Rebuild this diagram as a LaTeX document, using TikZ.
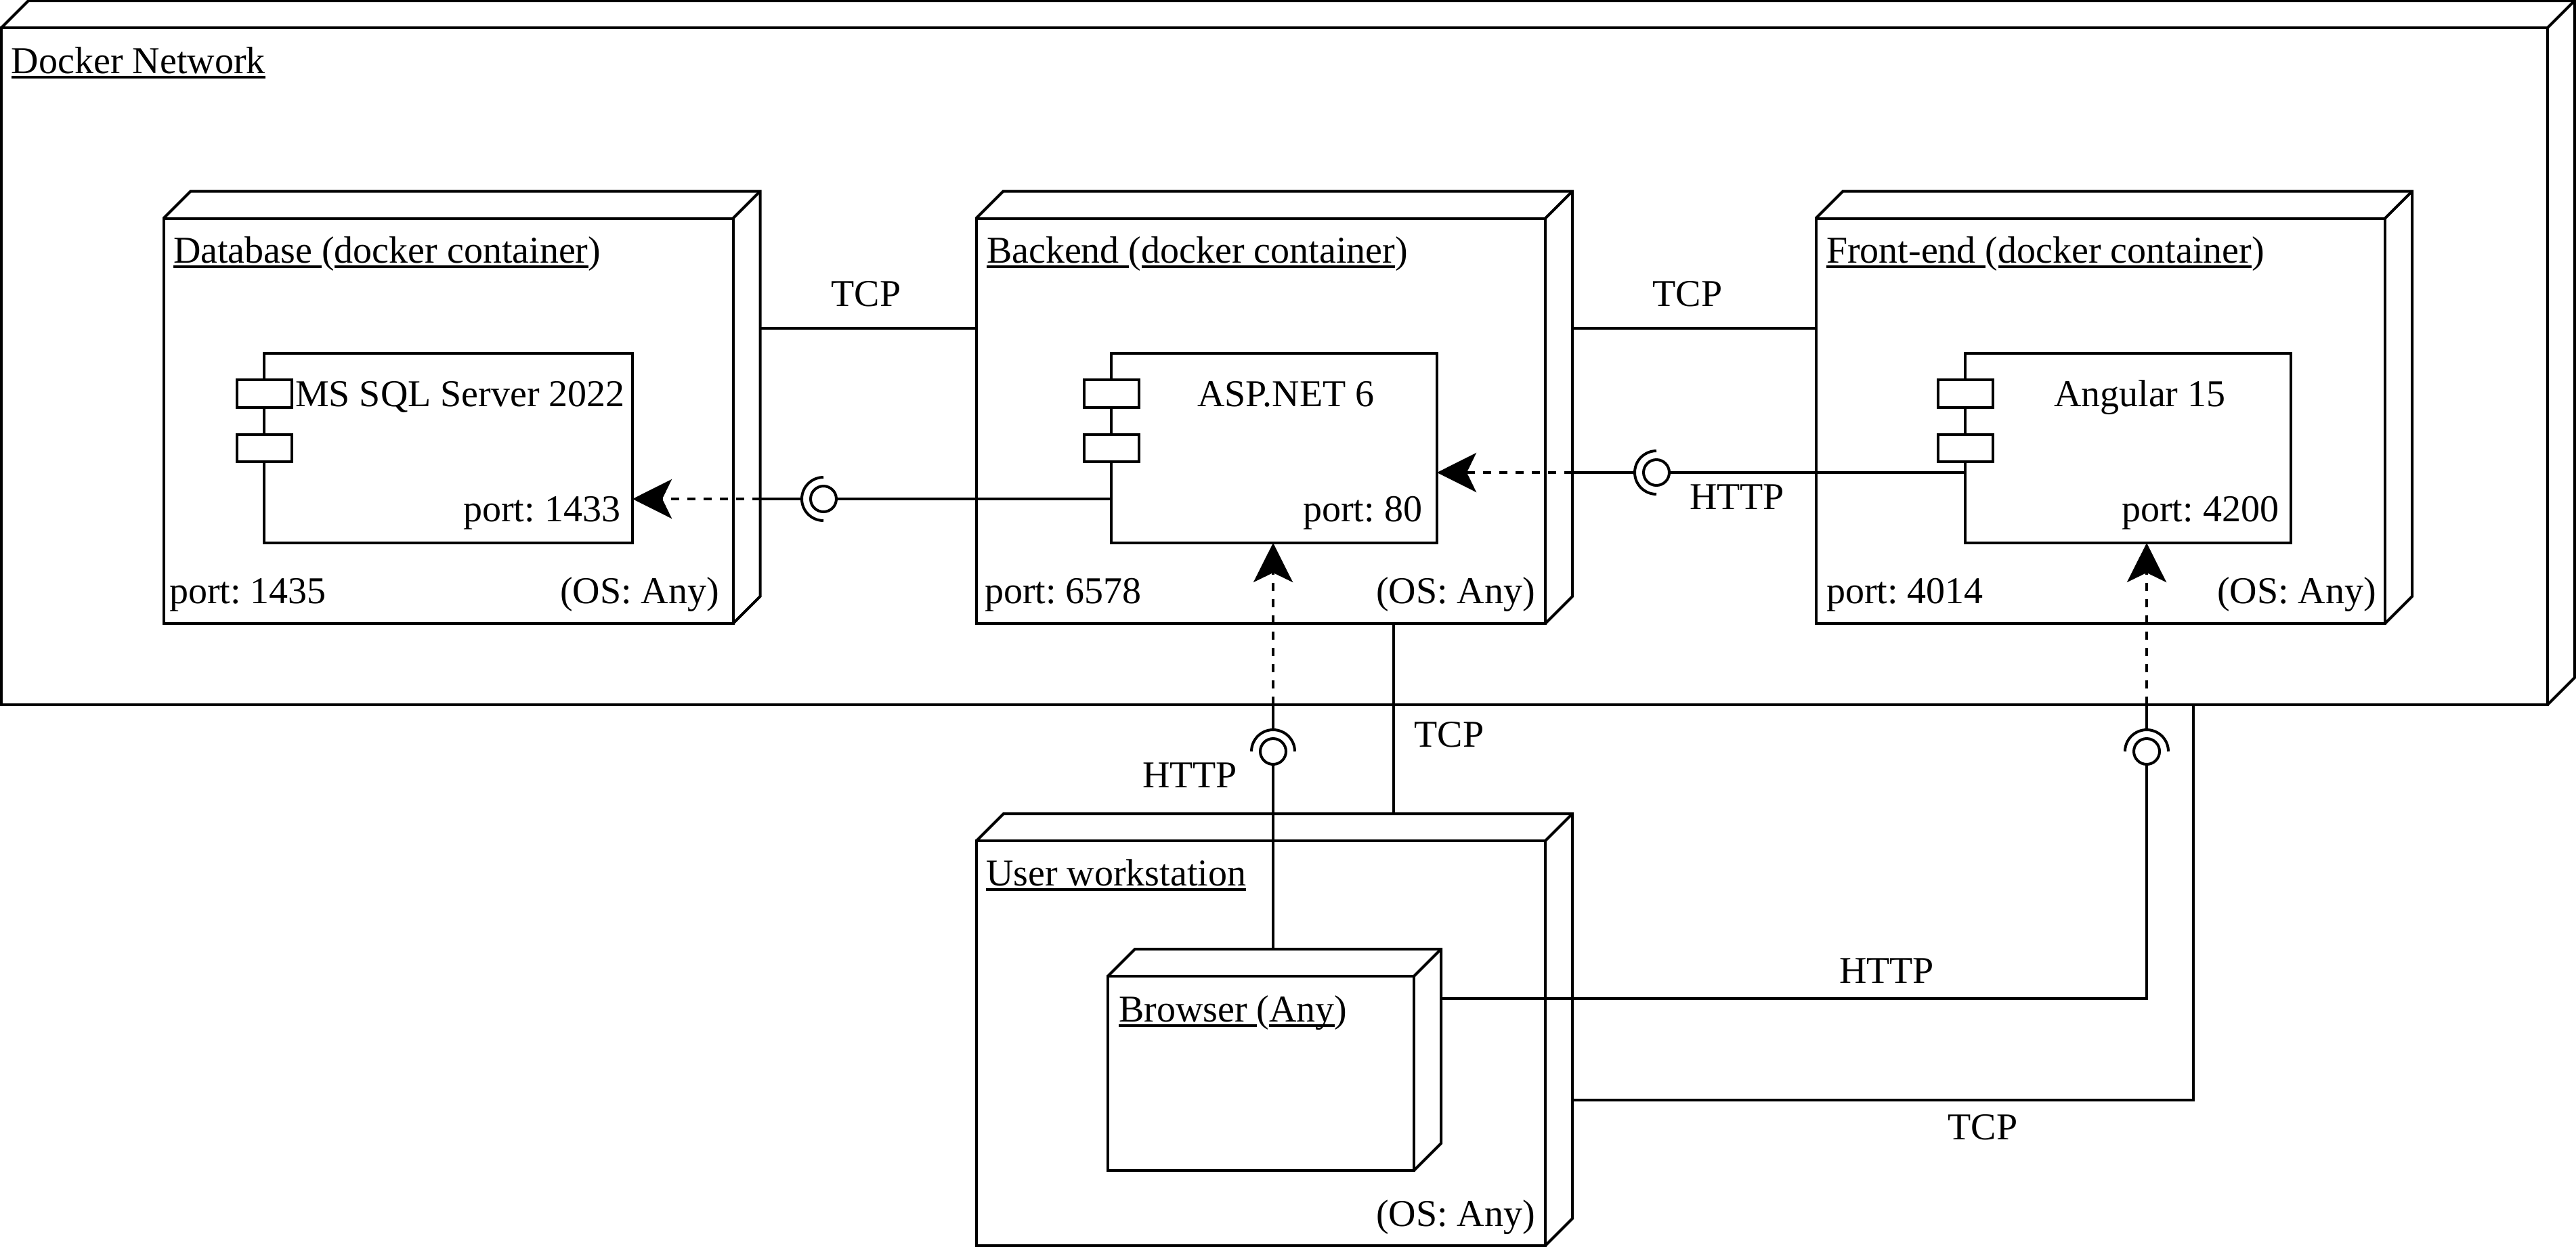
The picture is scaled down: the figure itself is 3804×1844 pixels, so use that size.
\documentclass[tikz,border=0pt]{standalone}
\usepackage{fontspec}
\setmainfont{Liberation Serif}
\usetikzlibrary{fit,arrows.meta}
\frenchspacing
\newcommand\ulx[1]{\setbox0=\hbox{#1}\rlap{\rule[-2pt]{\wd0}{1pt}}\box0}
\newcommand\cubenode[5]{%
  \fill[white] (#2,#3) -- (#2+40,#3-40) -- (#4+40,#3-40) -- (#4+40,#5-40) -- (#4,#5) -- cycle;
  \node[box, fit={(#2,#3) (#4,#5)}] (#1) {};
  \draw[line join=miter] (#1.north west) -- ++(40,-40) coordinate (#1T)
     -- ([shift={(40,-40)}]#1.north east) coordinate (#1R)
     -- ([shift={(40,-40)}]#1.south east) coordinate (#1B) -- (#1.south east);
  \draw (#1.north east) -- (#1R);
}
\newcommand\compnode[6]{%
  \node[box, fit={(#2,#3) (#4,#5)}] (#1) {};
  \node[box, fit={(#2-40,#3+39) (#2+41,#3+80)}] (#1a) {};
  \node[box, fit={(#2-40,#3+120) (#2+41,#3+160)}] (#1b) {};
  \node[lbl, anchor=base] (#1t) at ({(#2+41+#4)/2-3}, #3+78) {#6};
}
\begin{document}
\begin{tikzpicture}[x=0.25pt, y=-0.25pt, line width=1pt,
  box/.style={draw, fill=white, inner sep=0pt, outer sep=0pt},
  lbl/.style={inner sep=0pt, outer sep=0pt, font=\fontsize{14}{17}\selectfont\frenchspacing},
  dep/.style={dash pattern=on 3pt off 3pt, -{Stealth[length=14.5pt, width=14.5pt, inset=3.5pt]}},
  ball/.style={circle, draw, fill=white, minimum size=9.5pt, inner sep=0pt, outer sep=0pt}]
\useasboundingbox (0,0) rectangle (3804,1844);
\fill[white] (0,0) rectangle (3804,1844);

% Docker network
\cubenode{dn}{2}{41}{3762}{1041}
\node[lbl, anchor=base west] (dnl) at (17,108) {\ulx{Docker Network}};

% Database
\cubenode{db}{241.5}{322.5}{1082.5}{921}
\node[lbl, anchor=base west] (dbl) at (256,388) {\ulx{Database }(\ulx{docker container})};
\node[lbl, anchor=base west] (dbp) at (250,891) {port: 1435};
\node[lbl, anchor=base east] (dbo) at (1062,891) {(OS: Any)};
\compnode{sql}{390}{522}{934}{802}{MS SQL Server 2022}
\node[lbl, anchor=base east] (sqlp) at (916,770) {port: 1433};

% Backend
\cubenode{be}{1441.5}{322.5}{2282}{921}
\node[lbl, anchor=base west] (bel) at (1457,388) {\ulx{Backend }(\ulx{docker container})};
\node[lbl, anchor=base west] (bep) at (1454,891) {port: 6578};
\node[lbl, anchor=base east] (beo) at (2267,891) {(OS: Any)};
\compnode{asp}{1641}{522}{2122}{802}{ASP.NET 6}
\node[lbl, anchor=base east] (aspp) at (2100,770) {port: 80};

% Front-end
\cubenode{fe}{2681.5}{322.5}{3522}{921}
\node[lbl, anchor=base west] (fel) at (2697,388) {\ulx{Front-end }(\ulx{docker container})};
\node[lbl, anchor=base west] (fep) at (2697,891) {port: 4014};
\node[lbl, anchor=base east] (feo) at (3509,891) {(OS: Any)};
\compnode{ang}{2901.5}{522}{3383}{802}{Angular 15}
\node[lbl, anchor=base east] (angp) at (3365,770) {port: 4200};

% User workstation
\cubenode{ws}{1442}{1242}{2282}{1840}
\node[lbl, anchor=base west] (wsl) at (1456,1308) {\ulx{User workstation}};
\node[lbl, anchor=base east] (wso) at (2267,1811) {(OS: Any)};
\cubenode{br}{1636}{1442}{2088}{1729}
\node[lbl, anchor=base west] (brl) at (1652,1509) {\ulx{Browser }(\ulx{Any})};

% TCP links between containers
\draw (dbR |- 0,485) -- (be.west |- 0,485);
\node[lbl, anchor=base] (l1) at (1279,452) {TCP};
\draw (beR |- 0,485) -- (fe.west |- 0,485);
\node[lbl, anchor=base] (l2) at (2492,452) {TCP};

% ASP.NET -> MS SQL
\node[ball] (b1) at (1216,737) {};
\draw (asp.west |- b1) -- (b1.east);
\draw ([yshift=8pt]b1.center) arc[start angle=90, end angle=270, radius=8pt];
\coordinate (a1) at ([xshift=-8pt]b1.center);
\coordinate (e1) at (dbR |- b1);
\draw (a1) -- (e1);
\draw[dep] (e1) -- (sql.east |- b1);

% Angular -> ASP.NET
\node[ball] (b2) at (2446,698) {};
\draw (ang.west |- b2) -- (b2.east);
\draw ([yshift=8pt]b2.center) arc[start angle=90, end angle=270, radius=8pt];
\coordinate (a2) at ([xshift=-8pt]b2.center);
\coordinate (e2) at (beR |- b2);
\draw (a2) -- (e2);
\draw[dep] (e2) -- (asp.east |- b2);
\node[lbl, anchor=base] (l3) at (2565,752) {HTTP};

% Browser -> ASP.NET
\node[ball] (b3) at (1880,1110) {};
\draw (b3 |- brT) -- (b3.south);
\draw ([xshift=8pt]b3.center) arc[start angle=0, end angle=180, radius=8pt];
\coordinate (a3) at ([yshift=8pt]b3.center);
\coordinate (e3) at (b3 |- dn.south);
\draw (a3) -- (e3);
\draw[dep] (e3) -- (b3 |- asp.south);
\node[lbl, anchor=base] (l4) at (1757,1163) {HTTP};

% Browser -> Angular
\node[ball] (b4) at (3170,1110) {};
\draw (brR |- 0,1475) -| (b4.south);
\draw ([xshift=8pt]b4.center) arc[start angle=0, end angle=180, radius=8pt];
\coordinate (a4) at ([yshift=8pt]b4.center);
\coordinate (e4) at (b4 |- dn.south);
\draw (a4) -- (e4);
\draw[dep] (e4) -- (b4 |- ang.south);
\node[lbl, anchor=base] (l5) at (2786,1452) {HTTP};

% TCP backend -> workstation
\draw (2058,0 |- be.south) -- (2058,0 |- wsT);
\node[lbl, anchor=base] (l6) at (2140,1103) {TCP};

% TCP docker network -> workstation
\draw (3239,0 |- dn.south) |- (wsR |- 0,1625);
\node[lbl, anchor=base] (l7) at (2928,1683) {TCP};
\end{tikzpicture}
\end{document}
